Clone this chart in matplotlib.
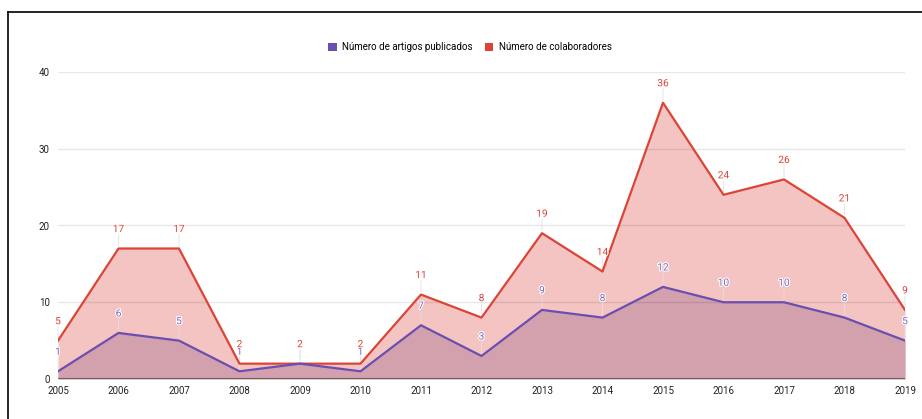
import matplotlib
matplotlib.use("Agg")
import matplotlib.pyplot as plt
import matplotlib.patheffects as pe
from matplotlib.patches import Patch
from matplotlib.lines import Line2D

plt.rcParams['font.family'] = ['Roboto', 'DejaVu Sans']

years = [2005, 2006, 2007, 2008, 2009, 2010, 2011, 2012, 2013, 2014, 2015, 2016, 2017, 2018, 2019]
artigos = [1, 6, 5, 1, 2, 1, 7, 3, 9, 8, 12, 10, 10, 8, 5]
colaboradores = [5, 17, 17, 2, 2, 2, 11, 8, 19, 14, 36, 24, 26, 21, 9]
series_names = ["Número de artigos publicados", "Número de colaboradores"]
yticks = [0, 10, 20, 30, 40]

W, H = 922, 419
fig = plt.figure(figsize=(W / 100, H / 100), dpi=100)
ax = fig.add_axes([58 / W, 1 - 379 / H, (905 - 58) / W, (379 - 72) / H])

red = "#db4437"
purple = "#6a4fb0"
red_fill = "#f3c4c1"
purple_fill = "#d3a0ae"

ax.fill_between(years, 0, colaboradores, color=red_fill, lw=0, zorder=1)
ax.fill_between(years, 0, artigos, color=purple_fill, lw=0, zorder=1.1)
for t in yticks[1:]:
    ax.axhline(t, color="#000000", alpha=0.09, lw=1, zorder=1.5)
ax.plot(years, colaboradores, color=red, lw=1.6, zorder=3)
ax.plot(years, artigos, color=purple, lw=1.6, zorder=3)
ax.axhline(0, color="#666666", lw=1.5, zorder=4)

ax.set_xlim(years[0], years[-1])
ax.set_ylim(0, 40)
ax.set_yticks(yticks)
ax.set_xticks(years)
ax.tick_params(axis="both", length=0, labelsize=7, colors="#222222")
ax.tick_params(axis="x", pad=5)
ax.tick_params(axis="y", pad=6)
for s in ax.spines.values():
    s.set_visible(False)
ax.set_facecolor("none")

# annotations (purple first, red on top)
for x, v in zip(years, artigos):
    ax.annotate("", xy=(x, v), xytext=(0, 12), textcoords="offset points",
                arrowprops=dict(arrowstyle="-", color="#e6e6e6", lw=0.8, alpha=0.6), zorder=2)
    ax.annotate(str(v), xy=(x, v), xytext=(0, 14), textcoords="offset points",
                ha="center", va="center", fontsize=7.3, color="#7a6cc0", zorder=5,
                path_effects=[pe.withStroke(linewidth=1.5, foreground="white")])
for x, v in zip(years, colaboradores):
    ax.annotate("", xy=(x, v), xytext=(0, 12), textcoords="offset points",
                arrowprops=dict(arrowstyle="-", color="#e6e6e6", lw=0.8), zorder=2)
    ax.annotate(str(v), xy=(x, v), xytext=(0, 14), textcoords="offset points",
                ha="center", va="center", fontsize=7.3, color=red, zorder=6,
                path_effects=[pe.withStroke(linewidth=1.2, foreground="white")])

handles = [Patch(facecolor=purple, edgecolor="none"), Patch(facecolor=red, edgecolor="none")]
fig.legend(handles, series_names, loc="center", bbox_to_anchor=(470 / W, 1 - 47 / H),
           ncol=2, frameon=False, fontsize=7, handlelength=0.9, handleheight=0.9,
           handletextpad=0.6, columnspacing=1.2)

# frame border lines
fig.add_artist(Line2D([8 / W, 1], [1 - 12 / H, 1 - 12 / H], color="black", lw=1.2))
fig.add_artist(Line2D([8 / W, 8 / W], [0, 1 - 12 / H], color="black", lw=1.2))

fig.savefig("out.png", dpi=100)
